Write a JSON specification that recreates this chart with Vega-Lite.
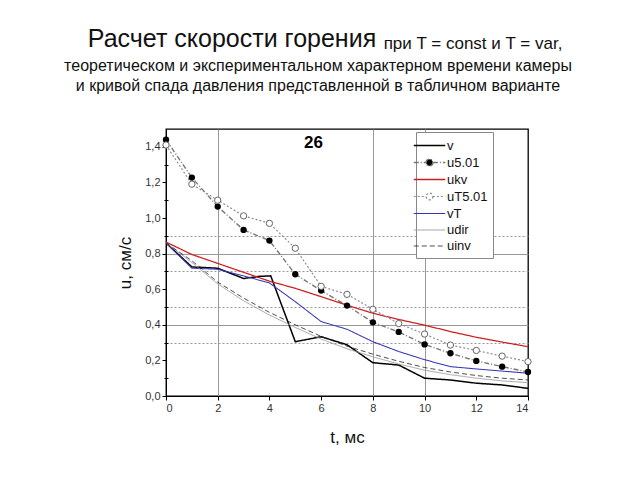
{
  "$schema": "https://vega.github.io/schema/vega-lite/v6.json",
  "background": "white",
  "padding": {"left": 63, "top": 27, "right": 5, "bottom": 5},
  "title": {"text": "Расчет скорости горения", "fontSize": 25, "font": "Liberation Sans", "fontWeight": "normal", "color": "#111", "anchor": "middle", "frame": "group", "dx": -115, "offset": -17},
  "vconcat": [
    {
      "title": {"text": "при T = const и T = var,", "fontSize": 17, "font": "Liberation Sans", "fontWeight": "normal", "color": "#111", "anchor": "middle", "frame": "group", "dx": 307, "offset": 4},
      "vconcat": [
        {
          "title": {"text": ["теоретическом и экспериментальном характерном времени камеры", "и кривой спада давления представленной в табличном варианте"], "fontSize": 16, "lineHeight": 20, "font": "Liberation Sans", "fontWeight": "normal", "color": "#111", "anchor": "middle", "frame": "group", "dx": -29, "offset": 35},
          "width": 362,
          "height": 267,
          "data": {"values": [
            {"s": "v", "t": 0, "u": 0.86}, {"s": "v", "t": 1, "u": 0.725}, {"s": "v", "t": 2, "u": 0.718}, {"s": "v", "t": 3, "u": 0.66}, {"s": "v", "t": 3.6, "u": 0.672}, {"s": "v", "t": 4.05, "u": 0.675}, {"s": "v", "t": 5, "u": 0.305}, {"s": "v", "t": 6, "u": 0.333}, {"s": "v", "t": 7, "u": 0.288}, {"s": "v", "t": 8, "u": 0.187}, {"s": "v", "t": 9, "u": 0.174}, {"s": "v", "t": 10, "u": 0.1}, {"s": "v", "t": 11, "u": 0.09}, {"s": "v", "t": 12, "u": 0.072}, {"s": "v", "t": 13, "u": 0.062}, {"s": "v", "t": 14, "u": 0.043},
            {"s": "u5.01", "t": 0, "u": 1.44}, {"s": "u5.01", "t": 1, "u": 1.227}, {"s": "u5.01", "t": 2, "u": 1.064}, {"s": "u5.01", "t": 3, "u": 0.933}, {"s": "u5.01", "t": 4, "u": 0.873}, {"s": "u5.01", "t": 5, "u": 0.684}, {"s": "u5.01", "t": 6, "u": 0.592}, {"s": "u5.01", "t": 7, "u": 0.508}, {"s": "u5.01", "t": 8, "u": 0.414}, {"s": "u5.01", "t": 9, "u": 0.36}, {"s": "u5.01", "t": 10, "u": 0.29}, {"s": "u5.01", "t": 11, "u": 0.24}, {"s": "u5.01", "t": 12, "u": 0.197}, {"s": "u5.01", "t": 13, "u": 0.165}, {"s": "u5.01", "t": 14, "u": 0.135},
            {"s": "ukv", "t": 0, "u": 0.865}, {"s": "ukv", "t": 1, "u": 0.795}, {"s": "ukv", "t": 2, "u": 0.745}, {"s": "ukv", "t": 3, "u": 0.695}, {"s": "ukv", "t": 4, "u": 0.645}, {"s": "ukv", "t": 5, "u": 0.605}, {"s": "ukv", "t": 6, "u": 0.558}, {"s": "ukv", "t": 7, "u": 0.51}, {"s": "ukv", "t": 8, "u": 0.465}, {"s": "ukv", "t": 9, "u": 0.43}, {"s": "ukv", "t": 10, "u": 0.398}, {"s": "ukv", "t": 11, "u": 0.362}, {"s": "ukv", "t": 12, "u": 0.33}, {"s": "ukv", "t": 13, "u": 0.303}, {"s": "ukv", "t": 14, "u": 0.277},
            {"s": "uT5.01", "t": 0, "u": 1.41}, {"s": "uT5.01", "t": 1, "u": 1.19}, {"s": "uT5.01", "t": 2, "u": 1.1}, {"s": "uT5.01", "t": 3, "u": 1.012}, {"s": "uT5.01", "t": 4, "u": 0.97}, {"s": "uT5.01", "t": 5, "u": 0.83}, {"s": "uT5.01", "t": 6, "u": 0.616}, {"s": "uT5.01", "t": 7, "u": 0.571}, {"s": "uT5.01", "t": 8, "u": 0.487}, {"s": "uT5.01", "t": 9, "u": 0.407}, {"s": "uT5.01", "t": 10, "u": 0.348}, {"s": "uT5.01", "t": 11, "u": 0.286}, {"s": "uT5.01", "t": 12, "u": 0.256}, {"s": "uT5.01", "t": 13, "u": 0.224}, {"s": "uT5.01", "t": 14, "u": 0.193},
            {"s": "vT", "t": 0, "u": 0.86}, {"s": "vT", "t": 1, "u": 0.718}, {"s": "vT", "t": 2, "u": 0.712}, {"s": "vT", "t": 3, "u": 0.675}, {"s": "vT", "t": 4, "u": 0.635}, {"s": "vT", "t": 5, "u": 0.53}, {"s": "vT", "t": 6, "u": 0.418}, {"s": "vT", "t": 7, "u": 0.375}, {"s": "vT", "t": 8, "u": 0.305}, {"s": "vT", "t": 9, "u": 0.25}, {"s": "vT", "t": 10, "u": 0.204}, {"s": "vT", "t": 11, "u": 0.165}, {"s": "vT", "t": 12, "u": 0.152}, {"s": "vT", "t": 13, "u": 0.14}, {"s": "vT", "t": 14, "u": 0.128},
            {"s": "udir", "t": 0, "u": 0.86}, {"s": "udir", "t": 1, "u": 0.75}, {"s": "udir", "t": 2, "u": 0.63}, {"s": "udir", "t": 3, "u": 0.535}, {"s": "udir", "t": 4, "u": 0.455}, {"s": "udir", "t": 5, "u": 0.385}, {"s": "udir", "t": 6, "u": 0.32}, {"s": "udir", "t": 7, "u": 0.265}, {"s": "udir", "t": 8, "u": 0.22}, {"s": "udir", "t": 9, "u": 0.18}, {"s": "udir", "t": 10, "u": 0.145}, {"s": "udir", "t": 11, "u": 0.12}, {"s": "udir", "t": 12, "u": 0.1}, {"s": "udir", "t": 13, "u": 0.085}, {"s": "udir", "t": 14, "u": 0.075},
            {"s": "uinv", "t": 0, "u": 0.86}, {"s": "uinv", "t": 1, "u": 0.76}, {"s": "uinv", "t": 2, "u": 0.64}, {"s": "uinv", "t": 3, "u": 0.55}, {"s": "uinv", "t": 4, "u": 0.47}, {"s": "uinv", "t": 5, "u": 0.4}, {"s": "uinv", "t": 6, "u": 0.335}, {"s": "uinv", "t": 7, "u": 0.28}, {"s": "uinv", "t": 8, "u": 0.235}, {"s": "uinv", "t": 9, "u": 0.195}, {"s": "uinv", "t": 10, "u": 0.16}, {"s": "uinv", "t": 11, "u": 0.135}, {"s": "uinv", "t": 12, "u": 0.115}, {"s": "uinv", "t": 13, "u": 0.1}, {"s": "uinv", "t": 14, "u": 0.09}
          ]},
          "resolve": {"axis": {"y": "independent"}},
          "layer": [
            {
              "mark": {"type": "line", "clip": true},
              "encoding": {
                "x": {"field": "t", "type": "quantitative", "scale": {"domain": [0, 14], "nice": false},
                  "axis": {"title": "t,  мс", "titleFont": "Liberation Sans", "titleFontSize": 17, "titleFontWeight": "normal", "titleColor": "#111", "titlePadding": 16,
                    "values": [0,1,2,3,4,5,6,7,8,9,10,11,12,13,14],
                    "labelOverlap": false,
                    "labelExpr": "datum.value % 2 === 0 ? datum.label : ''",
                    "grid": true,
                    "gridColor": "#999",
                    "gridOpacity": {"condition": {"test": "indexof([1,2,3,5,7,8,10], datum.value) >= 0", "value": 1}, "value": 0},
                    "gridDash": {"condition": {"test": "indexof([2,8,10], datum.value) >= 0", "value": []}, "value": [2, 2]}
                  }},
                "y": {"field": "u", "type": "quantitative", "scale": {"domain": [0, 1.5], "nice": false},
                  "axis": {"orient": "left", "title": "u,  см/с", "titleFont": "Liberation Sans", "titleFontSize": 17, "titleFontWeight": "normal", "titleColor": "#111", "titlePadding": 10,
                    "values": [0, 0.2, 0.4, 0.6, 0.8, 1.0, 1.2, 1.4],
                    "labelOverlap": false,
                    "labelExpr": "replace(format(datum.value, '.1f'), '.', ',')",
                    "grid": true,
                    "gridColor": "#999",
                    "gridOpacity": {"condition": {"test": "indexof([4,8], round(datum.value*10)) >= 0", "value": 1}, "value": 0}
                  }},
                "color": {"field": "s", "type": "nominal",
                  "scale": {"domain": ["v", "u5.01", "ukv", "uT5.01", "vT", "udir", "uinv"], "range": ["#000000", "#777777", "#cc2020", "#888888", "#3535b8", "#999999", "#222222"]},
                  "legend": {"orient": "none", "legendX": 250, "legendY": 3, "title": null, "symbolSize": 225, "symbolStrokeWidth": 1.3, "labelFontSize": 13, "labelFont": "Liberation Sans", "labelColor": "#111", "rowPadding": 1, "strokeColor": "#888", "fillColor": "white", "padding": 5, "labelOffset": 9,
                    "encode": {"symbols": {"update": {
                      "shape": {"signal": "indexof(['u5.01','uT5.01'], datum.value) >= 0 ? 'M-2.1,0H-0.45M0.45,0H2.1M0.45,0A0.45,0.45 0 1 1 -0.45,0A0.45,0.45 0 1 1 0.45,0' : 'M-2.1,0H2.1'"},
                      "fill": {"signal": "datum.value === 'u5.01' ? 'black' : (datum.value === 'uT5.01' ? 'white' : 'transparent')"},
                      "strokeDash": {"signal": "datum.value === 'uinv' ? [4, 3] : [1, 0]"}
                    }}}
                  }},
                "strokeDash": {"field": "s", "type": "nominal", "legend": null,
                  "scale": {"domain": ["v", "u5.01", "ukv", "uT5.01", "vT", "udir", "uinv"], "range": [[1, 0], [5, 2, 1, 2], [1, 0], [2, 2], [1, 0], [1, 0], [5, 3]]}},
                "strokeWidth": {"field": "s", "type": "nominal", "legend": null,
                  "scale": {"domain": ["v", "u5.01", "ukv", "uT5.01", "vT", "udir", "uinv"], "range": [1.5, 0.8, 1.5, 0.8, 1, 1, 1]}}
              }
            },
            {
              "transform": [{"filter": "datum.s === 'u5.01'"}],
              "mark": {"type": "point", "filled": true, "color": "#000", "opacity": 1, "size": 40},
              "encoding": {
                "x": {"field": "t", "type": "quantitative"},
                "y": {"field": "u", "type": "quantitative",
                  "axis": {"orient": "left", "title": null, "labels": false, "domain": false, "ticks": true, "offset": -2,
                    "values": [0.1, 0.3, 0.5, 0.7, 0.9, 1.1, 1.3],
                    "grid": true, "gridColor": "#999", "gridDash": [2, 2],
                    "gridOpacity": {"condition": {"test": "indexof([3,5,7,9], round(datum.value*10)) >= 0", "value": 1}, "value": 0}
                  }}
              }
            },
            {
              "transform": [{"filter": "datum.s === 'uT5.01'"}],
              "mark": {"type": "point", "fill": "white", "fillOpacity": 1, "stroke": "#666", "strokeWidth": 1, "opacity": 1, "size": 40},
              "encoding": {"x": {"field": "t", "type": "quantitative"}, "y": {"field": "u", "type": "quantitative", "axis": null}}
            },
            {
              "data": {"values": [{"label": "26"}]},
              "mark": {"type": "text", "font": "Liberation Sans", "fontWeight": "bold", "fontSize": 17, "color": "#000"},
              "encoding": {"x": {"datum": 5.7, "type": "quantitative"}, "y": {"datum": 1.42, "type": "quantitative", "axis": null}, "text": {"field": "label"}}
            }
          ]
        }
      ]
    }
  ],
  "config": {
    "view": {"stroke": "#000", "strokeWidth": 1.3},
    "axis": {"domainColor": "#000", "tickColor": "#000", "labelFont": "Liberation Sans", "labelFontSize": 11, "labelColor": "#333", "tickSize": 4, "labelOverlap": false}
  }
}
